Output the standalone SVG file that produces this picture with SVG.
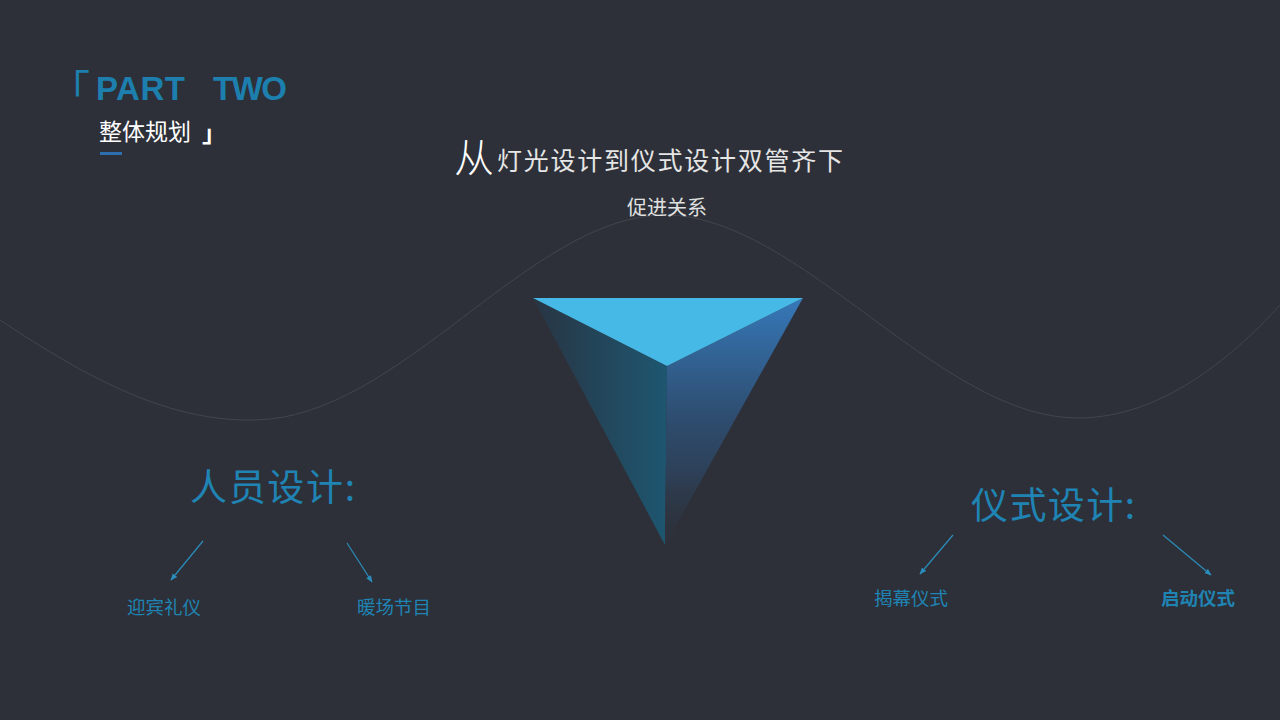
<svg xmlns="http://www.w3.org/2000/svg" width="1280" height="720" viewBox="0 0 1280 720">
<defs>
<style>
.cjk{font-family:"Noto Sans CJK SC","Noto Sans",sans-serif}
.blue{fill:#1f84b4}
.conn{stroke:#2a8dbb;stroke-width:1.2;fill:none;marker-end:url(#ah)}
</style>
<marker id="ah" viewBox="0 0 10 10" refX="9" refY="5" markerWidth="7" markerHeight="7" orient="auto" markerUnits="userSpaceOnUse">
<path d="M0,1 L10,5 L0,9 Z" fill="#2a8dbb"/>
</marker>
<linearGradient id="gl" x1="0" y1="0" x2="1" y2="0">
<stop offset="0" stop-color="#283543"/>
<stop offset="1" stop-color="#1e5670"/>
</linearGradient>
<linearGradient id="gl2" x1="0" y1="0" x2="0" y2="1">
<stop offset="0" stop-color="#2d3038" stop-opacity="0"/>
<stop offset="0.7" stop-color="#2d3038" stop-opacity="0.15"/>
<stop offset="1" stop-color="#2d3038" stop-opacity="0.85"/>
</linearGradient>
<linearGradient id="gr" x1="0" y1="0" x2="0" y2="1">
<stop offset="0" stop-color="#3679ba"/>
<stop offset="0.5" stop-color="#2e4f74"/>
<stop offset="1" stop-color="#2d3440"/>
</linearGradient>
</defs>
<rect width="1280" height="720" fill="#2d3038"/>
<path id="wave" d="M0,320 C90,380 170,422 255,420 C400,418 530,215 665,215 C800,215 940,420 1080,418 C1160,417 1230,360 1280,305" fill="none" stroke="#42454c" stroke-width="1"/>
<g id="title">
<text x="50" y="104" class="cjk" font-size="40" fill="#1c7fae">「</text>
<text x="96" y="100" font-family="Liberation Sans,Arial,sans-serif" font-size="33" font-weight="bold" fill="#1c7fae" textLength="89">PART</text>
<text x="213" y="100" font-family="Liberation Sans,Arial,sans-serif" font-size="33" font-weight="bold" fill="#1c7fae" textLength="74">TWO</text>
<text x="99" y="140" class="cjk" font-size="23" fill="#ffffff">整体规划</text>
<text x="202" y="142" class="cjk" font-size="24" font-weight="bold" fill="#ffffff">」</text>
<rect x="100" y="152" width="22" height="3" fill="#2d6fae"/>
</g>
<g id="headline">
<text x="454" y="172" font-family="Noto Sans CJK SC,sans-serif" font-size="40" font-weight="300" fill="#ffffff">从</text>
<text x="497" y="170" class="cjk" font-size="25" fill="#e6e6e6" textLength="346">灯光设计到仪式设计双管齐下</text>
<text x="667" y="215" class="cjk" font-size="20" fill="#e0e0e0" text-anchor="middle">促进关系</text>
</g>
<g id="pyramid">
<polygon points="533,298 667,366 665,545" fill="url(#gl)"/>
<polygon points="803,298 667,366 665,545" fill="url(#gr)"/>
<polygon points="533,298 667,366 665,545 803,298" fill="url(#gl2)"/>
<polygon points="533,298 803,298 667,366" fill="#47b9e6"/>
</g>
<g id="node-renyuan">
<text x="190" y="501" class="cjk blue" font-size="37" textLength="165">人员设计:</text>
</g>
<g id="node-yishi">
<text x="971" y="519" class="cjk blue" font-size="37" textLength="164">仪式设计:</text>
</g>
<g id="node-yingbin"><text x="127" y="614" class="cjk blue" font-size="18.5">迎宾礼仪</text></g>
<g id="node-nuanchang"><text x="357" y="614" class="cjk blue" font-size="18.5">暖场节目</text></g>
<g id="node-jiemu"><text x="874" y="605" class="cjk blue" font-size="18.5">揭幕仪式</text></g>
<g id="node-qidong"><text x="1161" y="605" class="cjk blue" font-size="18.5" font-weight="bold">启动仪式</text></g>
<g id="connectors">
<line class="conn" x1="203" y1="541" x2="171" y2="580"/>
<line class="conn" x1="347" y1="543" x2="372" y2="582"/>
<line class="conn" x1="953" y1="535" x2="920" y2="574"/>
<line class="conn" x1="1163" y1="535" x2="1211" y2="575"/>
</g>
</svg>
